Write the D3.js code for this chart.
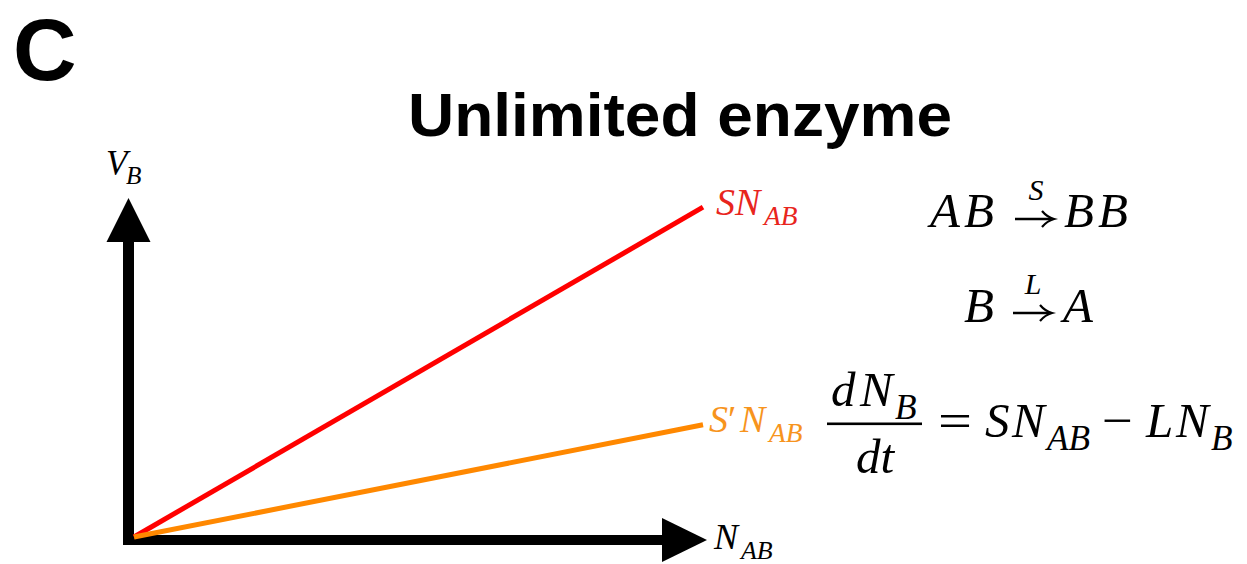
<!DOCTYPE html>
<html>
<head>
<meta charset="utf-8">
<script src="https://cdn.jsdelivr.net/npm/d3@7"></script>
<style>
  html, body { margin: 0; padding: 0; background: #fff; }
  svg { display: block; }
</style>
</head>
<body>
<svg id="chart" width="1247" height="564"></svg>
<script>
// Linear rate curves V_B = k * N_AB for the two enzyme rates
const xDomain = [0, 1];
const yDomain = [0, 1];
const seriesNames = ["S", "S′"];
const seriesSlopes = [0.97, 0.33];
const seriesColors = ["#ff0000", "#ff8800"];
const labelColors = ["#e8251d", "#f7941d"];

const panelLetter = "C";
const title = "Unlimited enzyme";

const svg = d3.select("#chart");

const x = d3.scaleLinear().domain(xDomain).range([134, 703]);
const y = d3.scaleLinear().domain(yDomain).range([537, 197]);

const MATH = "'Liberation Serif', 'Times New Roman', serif";
const SANS = "'Liberation Sans', Helvetica, Arial, sans-serif";

// Panel letter and title
svg.append("text")
  .attr("x", 13).attr("y", 80)
  .attr("font-family", SANS).attr("font-weight", "bold")
  .attr("font-size", 88).text(panelLetter);

svg.append("text")
  .attr("x", 408).attr("y", 136)
  .attr("font-family", SANS).attr("font-weight", "bold")
  .attr("font-size", 62)
  .attr("textLength", 544).attr("lengthAdjust", "spacingAndGlyphs")
  .text(title);

// Axes drawn as thick arrows meeting at the origin
const ax = svg.append("g").attr("fill", "#000");
const x0 = x(0) - 5.5, y0 = y(0) + 3;
ax.append("rect").attr("x", x0 - 5.5).attr("y", 242).attr("width", 11).attr("height", y0 + 5 - 242);
ax.append("rect").attr("x", x0 - 5.5).attr("y", y0 - 5).attr("width", 662 - (x0 - 5.5)).attr("height", 10);
ax.append("path").attr("d", d3.line()([[x0 - 22, 242], [x0 + 22, 242], [x0, 198]]) + "Z");
ax.append("path").attr("d", d3.line()([[662, y0 - 22], [662, y0 + 22], [707, y0]]) + "Z");

// Rate lines
const line = d3.line().x(d => x(d[0])).y(d => y(d[1]));
seriesSlopes.forEach((k, i) => {
  svg.append("path")
    .attr("d", line(xDomain.map(v => [v, k * v])))
    .attr("fill", "none")
    .attr("stroke", seriesColors[i])
    .attr("stroke-width", 5)
    .attr("stroke-linecap", "butt");
});

// Math text: each part is {s, x, sub, up, w} placed at its own x.
// sub = subscript (smaller, lowered), up = upright glyph, w = forced width
function math(parent, py, size, parts, color) {
  const g = parent.append("g").attr("fill", color || "#000");
  parts.forEach(p => {
    const fs = p.sub ? size * 0.72 : size;
    const t = g.append("text")
      .attr("x", p.x)
      .attr("y", py + (p.sub ? size * 0.27 : 0))
      .attr("font-family", MATH)
      .attr("font-style", p.up ? "normal" : "italic")
      .attr("font-size", p.fs || fs)
      .attr("text-anchor", p.anchor || "start")
      .text(p.s);
    if (p.w) t.attr("textLength", p.w).attr("lengthAdjust", "spacingAndGlyphs");
  });
  return g;
}

// Axis labels
math(svg, 175, 35, [{s: "V", x: 106}, {s: "B", x: 126, sub: true}]);
math(svg, 549, 36, [{s: "N", x: 714}, {s: "AB", x: 741, sub: true}]);

// Line end labels
math(svg, 215, 38, [{s: "S", x: 716}, {s: "N", x: 735}, {s: "AB", x: 764, sub: true}], labelColors[0]);
math(svg, 432, 38, [{s: "S", x: 709}, {s: "′", x: 728, up: true}, {s: "N", x: 740}, {s: "AB", x: 769, sub: true}], labelColors[1]);

// Reaction scheme
function reactArrow(x1, x2, yy) {
  svg.append("line").attr("x1", x1).attr("x2", x2 - 3).attr("y1", yy).attr("y2", yy)
    .attr("stroke", "#000").attr("stroke-width", 2.4);
  svg.append("path")
    .attr("d", `M${x2 - 12},${yy - 8} Q${x2 - 7},${yy - 2} ${x2},${yy} Q${x2 - 7},${yy + 2} ${x2 - 12},${yy + 8}`)
    .attr("fill", "none").attr("stroke", "#000").attr("stroke-width", 2.2);
}

math(svg, 227, 49, [{s: "A", x: 930}, {s: "B", x: 964}]);
reactArrow(1015, 1054, 219);
math(svg, 200, 30, [{s: "S", x: 1036, anchor: "middle"}]);
math(svg, 227, 49, [{s: "B", x: 1064}, {s: "B", x: 1098}]);

math(svg, 322, 49, [{s: "B", x: 964}]);
reactArrow(1013, 1052, 313);
math(svg, 294, 30, [{s: "L", x: 1033, anchor: "middle"}]);
math(svg, 322, 49, [{s: "A", x: 1063}]);

// Rate equation
math(svg, 406, 49, [{s: "d", x: 831}, {s: "N", x: 860}, {s: "B", x: 895, sub: true}]);
svg.append("rect").attr("x", 827).attr("y", 422.5).attr("width", 95).attr("height", 2.6).attr("fill", "#000");
math(svg, 473, 49, [{s: "dt", x: 875, anchor: "middle"}]);
math(svg, 437, 49, [
  {s: "=", x: 938, up: true, w: 34},
  {s: "S", x: 985},
  {s: "N", x: 1012},
  {s: "AB", x: 1047, sub: true},
  {s: "−", x: 1102, up: true, w: 31},
  {s: "L", x: 1146},
  {s: "N", x: 1176},
  {s: "B", x: 1211, sub: true}
]);
</script>
</body>
</html>
